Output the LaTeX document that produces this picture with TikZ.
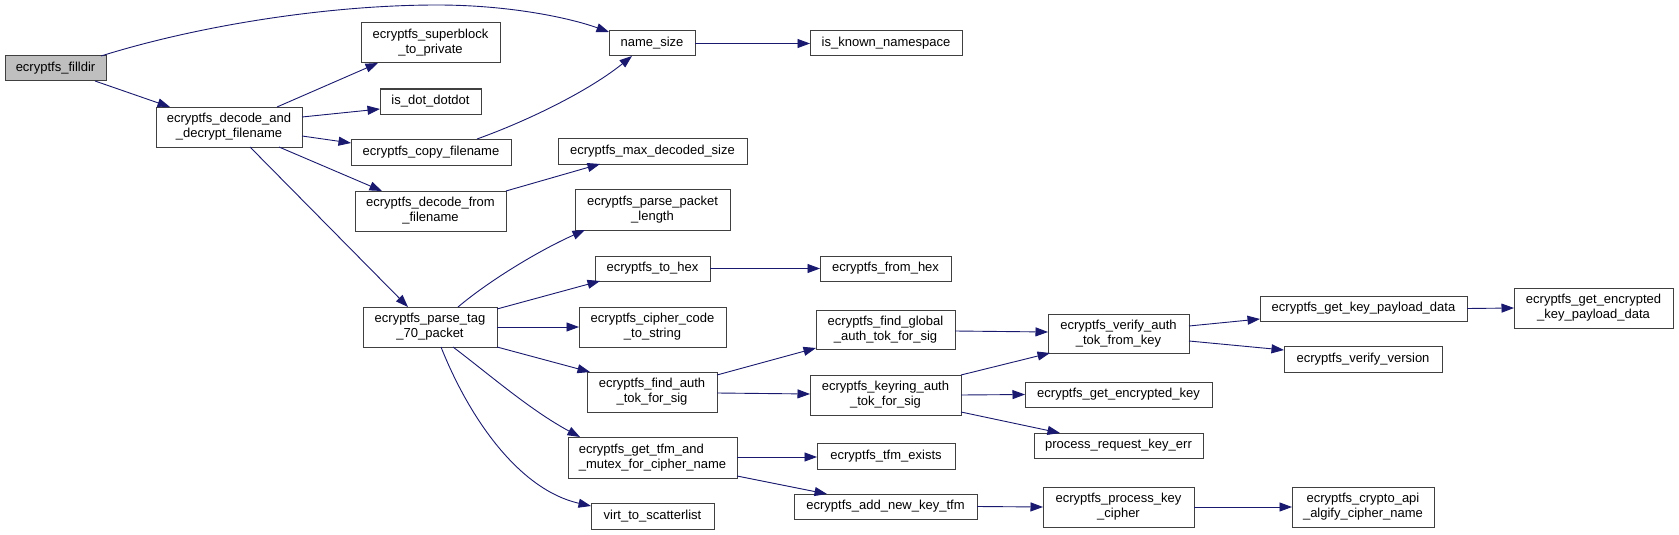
\documentclass[tikz,border=0pt]{standalone}
\usepackage{fontspec}
\setmainfont{Liberation Sans}
\usetikzlibrary{arrows.meta,calc}
\definecolor{edgeblue}{HTML}{191970}
\definecolor{boxline}{HTML}{404040}
\definecolor{rootfill}{HTML}{BFBFBF}
\tikzset{
  fn/.style 2 args={draw=boxline, line width=1pt, fill=white, inner sep=0pt, outer sep=0pt,
    anchor=north west, align=center, minimum width=#1, minimum height=#2,
    font=\fontsize{13}{15}\selectfont},
  edge/.style={draw=edgeblue, line width=0.9pt, -{Triangle[length=12.5pt,width=9pt]}}
}
\begin{document}
\begin{tikzpicture}[x=1pt,y=-1pt]
\useasboundingbox (0,0) rectangle (1679,535);
\fill[white] (0,0) rectangle (1679,535);
% nodes
\node[fn={101}{25}, fill=rootfill] (filldir) at (5,56) {ecryptfs\_filldir};
\node[fn={146}{40}] (decode) at (156,107) {ecryptfs\_decode\_and\\\_decrypt\_filename};
\node[fn={139}{40}] (superblock) at (361,23) {ecryptfs\_superblock\\\_to\_private};
\node[fn={101}{25}] (dotdot) at (380,89) {is\_dot\_dotdot};
\node[fn={160}{26}] (copy) at (351,139) {ecryptfs\_copy\_filename};
\node[fn={151}{40}] (decodefrom) at (355,191) {ecryptfs\_decode\_from\\\_filename};
\node[fn={86}{25}] (namesize) at (609,31) {name\_size};
\node[fn={152}{25}] (known) at (810,31) {is\_known\_namespace};
\node[fn={189}{26}] (maxdec) at (558,138) {ecryptfs\_max\_decoded\_size};
\node[fn={155}{41}] (pktlen) at (575,189) {ecryptfs\_parse\_packet\\\_length};
\node[fn={115}{25}] (tohex) at (595,256) {ecryptfs\_to\_hex};
\node[fn={131}{25}] (fromhex) at (820,256) {ecryptfs\_from\_hex};
\node[fn={134}{40}] (tag70) at (363,307) {ecryptfs\_parse\_tag\\\_70\_packet};
\node[fn={147}{40}] (cipher) at (579,307) {ecryptfs\_cipher\_code\\\_to\_string};
\node[fn={130}{40}] (findauth) at (587,372) {ecryptfs\_find\_auth\\\_tok\_for\_sig};
\node[fn={169}{41}, align=left] (gettfm) at (568,437) {ecryptfs\_get\_tfm\_and\\\_mutex\_for\_cipher\_name};
\node[fn={123}{26}] (virt) at (591,503) {virt\_to\_scatterlist};
\node[fn={139}{39}] (findglobal) at (816,310) {ecryptfs\_find\_global\\\_auth\_tok\_for\_sig};
\node[fn={151}{40}] (keyring) at (810,375) {ecryptfs\_keyring\_auth\\\_tok\_for\_sig};
\node[fn={141}{39}] (verify) at (1048,314) {ecryptfs\_verify\_auth\\\_tok\_from\_key};
\node[fn={187}{25}] (getenckey) at (1025,382) {ecryptfs\_get\_encrypted\_key};
\node[fn={169}{25}] (procreq) at (1034,433) {process\_request\_key\_err};
\node[fn={138}{26}] (tfmexists) at (817,443) {ecryptfs\_tfm\_exists};
\node[fn={183}{25}] (addnew) at (794,494) {ecryptfs\_add\_new\_key\_tfm};
\node[fn={151}{40}] (prockey) at (1043,487) {ecryptfs\_process\_key\\\_cipher};
\node[fn={207}{25}] (getpayload) at (1260,296) {ecryptfs\_get\_key\_payload\_data};
\node[fn={159}{40}] (getencpayload) at (1514,288) {ecryptfs\_get\_encrypted\\\_key\_payload\_data};
\node[fn={158}{26}] (verver) at (1284,346) {ecryptfs\_verify\_version};
\node[fn={142}{40}] (crypto) at (1292,487) {ecryptfs\_crypto\_api\\\_algify\_cipher\_name};
% edges
\draw[edge] ($(filldir.north west)+(96,0)$) .. controls (200,25) and (330,5) .. (437,5)
  .. controls (510,5) and (570,18) .. ($(namesize.north west)+(0,1)$);
\draw[edge] ($(filldir.north west)+(90,25)$) -- ($(decode.north west)+(14,0)$);
\draw[edge] ($(decode.north west)+(121,0)$) -- ($(superblock.north west)+(17,40)$);
\draw[edge] ($(decode.north west)+(146,10)$) -- ($(dotdot.north west)+(0,20)$);
\draw[edge] ($(decode.north west)+(146,29)$) -- ($(copy.north west)+(0,4)$);
\draw[edge] ($(decode.north west)+(123,40)$) -- ($(decodefrom.north west)+(27,0)$);
\draw[edge] ($(decode.north west)+(94,40)$) -- ($(tag70.north west)+(45,0)$);
\draw[edge] ($(copy.north west)+(126,0)$) .. controls (530,120) and (590,90) .. ($(namesize.north west)+(23,25)$);
\draw[edge] ($(decodefrom.north west)+(151,0)$) -- ($(maxdec.north west)+(42,26)$);
\draw[edge] ($(tag70.north west)+(95,0)$) .. controls (490,280) and (540,250) .. ($(pktlen.north west)+(10,41)$);
\draw[edge] ($(tag70.north west)+(134,2)$) -- ($(tohex.north west)+(5,25)$);
\draw[edge] (tag70.east) -- (cipher.west);
\draw[edge] ($(tag70.north west)+(134,40)$) -- ($(findauth.north west)+(3,0)$);
\draw[edge] ($(tag70.north west)+(90,40)$) .. controls (490,375) and (530,410) .. ($(gettfm.north west)+(12,0)$);
\draw[edge] ($(tag70.north west)+(78,40)$) .. controls (470,420) and (520,490) .. ($(virt.north west)+(0,3)$);
\draw[edge] (namesize.east) -- (known.west);
\draw[edge] (tohex.east) -- (fromhex.west);
\draw[edge] ($(findauth.north west)+(130,3)$) -- ($(findglobal.north west)+(0,38)$);
\draw[edge] ($(findauth.north west)+(130,21)$) -- ($(keyring.north west)+(0,19)$);
\draw[edge] ($(findglobal.north west)+(139,21)$) -- ($(verify.north west)+(0,18)$);
\draw[edge] ($(keyring.north west)+(151,0)$) -- ($(verify.north west)+(2,39)$);
\draw[edge] (keyring.east) -- (getenckey.west);
\draw[edge] ($(keyring.north west)+(151,37)$) -- ($(procreq.north west)+(26,0)$);
\draw[edge] ($(gettfm.north west)+(169,20)$) -- ($(tfmexists.north west)+(0,14)$);
\draw[edge] ($(gettfm.north west)+(169,39)$) -- ($(addnew.north west)+(33,0)$);
\draw[edge] (addnew.east) -- (prockey.west);
\draw[edge] (prockey.east) -- (crypto.west);
\draw[edge] ($(verify.north west)+(141,12)$) -- ($(getpayload.north west)+(0,23)$);
\draw[edge] ($(verify.north west)+(141,27)$) -- ($(verver.north west)+(0,4)$);
\draw[edge] (getpayload.east) -- (getencpayload.west);
\end{tikzpicture}
\end{document}
